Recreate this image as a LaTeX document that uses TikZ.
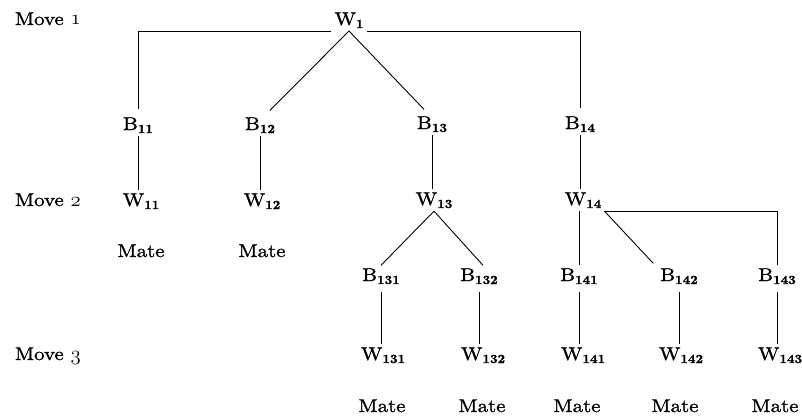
\documentclass[tikz,border=0pt]{standalone}
\usepackage{fontspec}
\setmainfont{lmroman10-regular.otf}[FakeStretch=1.13,FakeBold=1.2,BoldFont=lmroman10-bold.otf,BoldFeatures={FakeStretch=1.05}]
\newcommand\dgfont{\fontsize{18.5}{22}\selectfont}
\newcommand\os[1]{{\fontsize{22}{24}\usefont{OML}{cmm}{m}{it}#1}}
\newcommand\nd[2]{#1\raisebox{-3pt}{\fontsize{12.5}{13}\selectfont\bfseries #2}}
\begin{document}
\begin{tikzpicture}[x=1pt,y=-1pt,
  lbl/.style={anchor=base,inner sep=0pt,outer sep=3pt,font=\dgfont},
  conn/.style={line width=0.9pt,black}]
\useasboundingbox (0,0) rectangle (802,417);
% move labels
\node[lbl,anchor=base west] (m1) at (12,25) {Move \os{1}};
\node[lbl,anchor=base west] (m2) at (12,206) {Move \os{2}};
\node[lbl,anchor=base west] (m3) at (12,360) {Move \os{3}};
% level 0
\node[lbl] (W1) at (349,25) {\nd{W}{1}};
% level 1 black
\node[lbl] (B11) at (138,130) {\nd{B}{11}};
\node[lbl] (B12) at (260,130) {\nd{B}{12}};
\node[lbl] (B13) at (432,129) {\nd{B}{13}};
\node[lbl] (B14) at (580,129) {\nd{B}{14}};
% level 2 white
\node[lbl] (W11) at (141,206) {\nd{W}{11}};
\node[lbl] (W12) at (262,206) {\nd{W}{12}};
\node[lbl] (W13) at (434,205) {\nd{W}{13}};
\node[lbl] (W14) at (583,205) {\nd{W}{14}};
\node[lbl] (mt11) at (141,257) {Mate};
\node[lbl] (mt12) at (262,257) {Mate};
% level 3 black
\node[lbl] (B131) at (381,281) {\nd{B}{131}};
\node[lbl] (B132) at (479,281) {\nd{B}{132}};
\node[lbl] (B141) at (579,281) {\nd{B}{141}};
\node[lbl] (B142) at (679,281) {\nd{B}{142}};
\node[lbl] (B143) at (777,281) {\nd{B}{143}};
% level 3 white
\node[lbl] (W131) at (383,360) {\nd{W}{131}};
\node[lbl] (W132) at (483,360) {\nd{W}{132}};
\node[lbl] (W141) at (583,360) {\nd{W}{141}};
\node[lbl] (W142) at (681,360) {\nd{W}{142}};
\node[lbl] (W143) at (780,360) {\nd{W}{143}};
\node[lbl] (mt131) at (382,412) {Mate};
\node[lbl] (mt132) at (482,412) {Mate};
\node[lbl] (mt141) at (577,412) {Mate};
\node[lbl] (mt142) at (675,412) {Mate};
\node[lbl] (mt143) at (775,412) {Mate};
% connectors from W1
\draw[conn] (W1.south west) -| ([yshift=5pt]B11.north);
\draw[conn] (W1.south east) -| ([yshift=5pt]B14.north);
\draw[conn] (W1.south) -- ([xshift=10pt,yshift=4pt]B12.north);
\draw[conn] (W1.south) -- ([xshift=-8pt,yshift=4pt]B13.north);
% B -> W level 2
\draw[conn] (B11.south) -- (B11.south |- W11.north);
\draw[conn] (B12.south) -- (B12.south |- W12.north);
\draw[conn] (B13.south) -- (B13.south |- W13.north);
\draw[conn] (B14.south) -- (B14.south |- W14.north);
% W13 children
\draw[conn] (W13.south) -- (B131.north);
\draw[conn] (W13.south) -- ([xshift=4pt]B132.north);
% W14 children
\draw[conn] (B141.north |- W14.south) -- (B141.north);
\draw[conn] (W14.south east) -- ([xshift=-4pt,yshift=2pt]B142.north west);
\draw[conn] (W14.south east) -| (B143.north);
% B -> W level 3
\draw[conn] ([yshift=-5pt]B131.south) -- (B131.south |- W131.north);
\draw[conn] ([yshift=-5pt]B132.south) -- (B132.south |- W132.north);
\draw[conn] ([yshift=-5pt]B141.south) -- (B141.south |- W141.north);
\draw[conn] ([yshift=-5pt]B142.south) -- (B142.south |- W142.north);
\draw[conn] ([yshift=-5pt]B143.south) -- (B143.south |- W143.north);
\end{tikzpicture}
\end{document}
